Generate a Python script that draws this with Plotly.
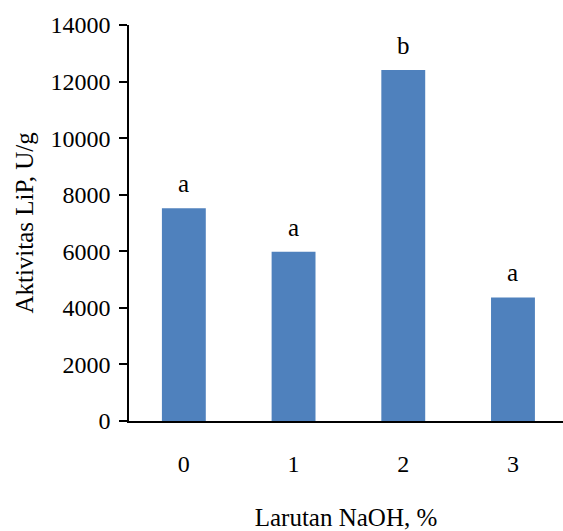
import plotly.graph_objects as go

categories = ["0", "1", "2", "3"]
values = [7520, 5985, 12410, 4370]
letters = ["a", "a", "b", "a"]
y_ticks = [0, 2000, 4000, 6000, 8000, 10000, 12000, 14000]
y_tick_labels = ["0", "2000", "4000", "6000", "8000", "10000", "12000", "14000"]

font = "Liberation Serif, Times New Roman, serif"

fig = go.Figure()
fig.add_trace(go.Bar(
    x=[0, 1, 2, 3], y=values, width=0.4,
    marker=dict(color="#4F81BD", line=dict(width=0)),
))

for i, (v, t) in enumerate(zip(values, letters)):
    fig.add_annotation(x=i, y=v, text=t, showarrow=False, yanchor="bottom",
                       yshift=9, font=dict(family=font, size=25, color="black"))

fig.update_layout(
    width=563, height=531,
    margin=dict(l=129, r=0, t=25, b=110),
    paper_bgcolor="white", plot_bgcolor="white",
    showlegend=False,
    font=dict(family=font, size=24, color="black"),
    xaxis=dict(
        range=[-0.5, 3.456], tickmode="array", tickvals=[0, 1, 2, 3], ticktext=categories,
        showline=True, linecolor="black", linewidth=1.5, ticks="", showgrid=False,
        zeroline=False, ticklabelstandoff=20, automargin=False,
        title=dict(text="Larutan NaOH, %", standoff=35, font=dict(size=25)),
    ),
    yaxis=dict(
        range=[0, 14000], tickmode="array", tickvals=y_ticks, ticktext=y_tick_labels,
        showline=True, linecolor="black", linewidth=1.5, ticks="outside", ticklen=8,
        tickcolor="black", tickwidth=1.5, showgrid=False, zeroline=False,
        ticklabelstandoff=4, automargin=False,
        title=dict(text="Aktivitas LiP, U/g", standoff=10, font=dict(size=25)),
    ),
)

fig.write_html("out.html", config={"displayModeBar": False})
with open("out.html", "r", encoding="utf-8") as f:
    html = f.read()
html = html.replace("<body>", '<body style="margin:0;overflow:hidden">', 1)
with open("out.html", "w", encoding="utf-8") as f:
    f.write(html)
